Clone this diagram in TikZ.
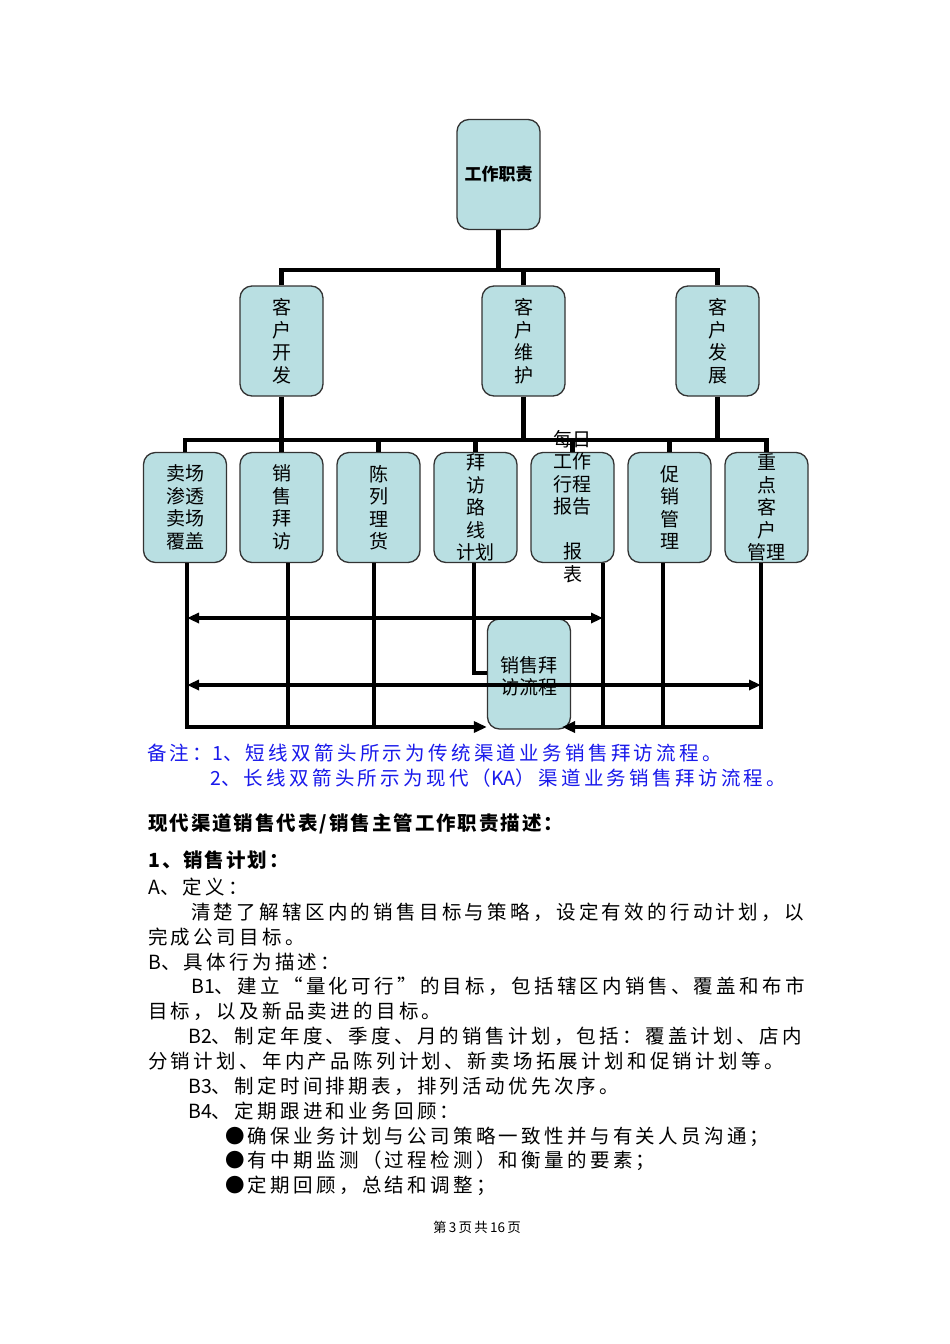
\documentclass[tikz,border=0pt]{standalone}
\usepackage{fontspec}
\setmainfont{Noto Sans CJK SC}
\newfontfamily\bodyfont{Noto Sans CJK SC}[LetterSpace=17]
\newfontfamily\headfont{Noto Sans CJK SC}[LetterSpace=10]
\newfontfamily\latf{Noto Sans CJK SC}
\newcommand\lt[1]{{\latf #1}}
\usetikzlibrary{arrows.meta,calc}
\definecolor{boxfill}{RGB}{185,223,226}
\definecolor{noteblue}{RGB}{25,25,235}
\begin{document}
\begin{tikzpicture}[x=1pt,y=-1pt,
  box/.style={draw=black!80,line width=1.3pt,fill=boxfill,rounded corners=12pt,
    minimum width=83pt,minimum height=110pt,inner sep=0pt,align=center,
    font=\fontsize{19}{22.5}\selectfont},
  boxtext/.style={inner sep=0pt,align=center,font=\fontsize{19}{22.5}\selectfont},
  bar/.style={line width=4.2pt},
  conn/.style={line width=3.5pt},
  tip/.style={-{Triangle[length=13pt,width=11pt]}},
  dtip/.style={{Triangle[length=12pt,width=10pt]}-{Triangle[length=12pt,width=10pt]}},
  body/.style={anchor=base west,inner sep=0pt,font=\bodyfont\fontsize{19.5}{22}\selectfont},
  head/.style={anchor=base west,inner sep=0pt,font=\headfont\bfseries\fontsize{19.5}{22}\selectfont},
  note/.style={body,text=noteblue}
]
\path[fill=white,use as bounding box] (0,0) rectangle (950,1344);

% level 1
\node[box,font=\bfseries\fontsize{17}{20}\selectfont] (top) at (498.5,174.5) {工作职责};
% level 2
\node[box] (k1) at (281.5,341) {客\\户\\开\\发};
\node[box] (k2) at (523.5,341) {客\\户\\维\\护};
\node[box] (k3) at (717.5,341) {客\\户\\发\\展};
% level 3
\node[box] (c1) at (185,507.5) {卖场\\渗透\\卖场\\覆盖};
\node[box] (c2) at (281.5,507.5) {销\\售\\拜\\访};
\node[box] (c3) at (378.5,507.5) {陈\\列\\理\\货};
\node[box] (c4) at (475.5,507.5) {};
\node[box] (c5) at (572.5,507.5) {};
\node[box] (c6) at (669.5,507.5) {促\\销\\管\\理};
\node[box] (c7) at (766.5,507.5) {};

% connectors level 1 -> 2
\coordinate (B1) at (498.5,270);
\draw[bar] (top.south) -- (B1);
\draw[bar] (k1.north) |- (B1) -| (k3.north);
\draw[bar] (k2.north) -- (k2.north |- B1);

% connectors level 2 -> 3
\coordinate (B2) at (475.5,440);
\draw[bar] (c1.north) |- (B2) -| (c7.north);
\draw[bar] (k1.south) -- (c2.north);
\draw[bar] (k2.south) -- (k2.south |- B2);
\draw[bar] (k3.south) -- (k3.south |- B2);
\draw[bar] (c3.north) -- (c3.north |- B2);
\draw[bar] (c4.north) -- (c4.north |- B2);
\draw[bar] (c5.north) -- (c5.north |- B2);
\draw[bar] (c6.north) -- (c6.north |- B2);

% texts of the five-line boxes
\node[boxtext] (c4t) at (475.5,507.5) {拜\\访\\路\\线\\计划};
\node[boxtext] (c7t) at (766.5,507.5) {重\\点\\客\\户\\管理};
\node[boxtext] (c5t) at (572.5,506.5) {每日\\工作\\行程\\报告\\[22.5pt]报\\表};

% flow box
\node[box] (flow) at (529,674) {};
\node[boxtext] (flowt) at (529,676.5) {销售拜\\访流程};

% lower connectors
\coordinate (BL) at (187,727);
\coordinate (BR) at (761,727);
\coordinate (FR) at (562,727);
\coordinate (V2) at (288,727);
\coordinate (V3) at (374,727);
\coordinate (V4) at (474,673);
\coordinate (V5) at (603,727);
\coordinate (V6) at (663,727);
\draw[conn,tip] (c1.south -| BL) -- (BL) -- (flow.west |- BL);
\draw[conn,tip] (c7.south -| BR) -- (BR) -- (FR);
\draw[conn] (c2.south -| V2) -- (V2);
\draw[conn] (c3.south -| V3) -- (V3);
\draw[conn] (c4.south -| V4) -- (V4) -- (flow.west |- V4);
\draw[conn] (c5.south -| V5) -- (V5);
\draw[conn] (c6.south -| V6) -- (V6);

% double arrows
\coordinate (S1) at (187,618);
\coordinate (S2) at (603,618);
\coordinate (L1) at (187,685);
\coordinate (L2) at (761,685);
\draw[conn,dtip] (S1) -- (S2);
\draw[conn,dtip] (L1) -- (L2);

% notes
\node[note] (n1) at (147,760) {备注：\lt{1}、短线双箭头所示为传统渠道业务销售拜访流程。};
\node[note] (n2) at (210,785) {\lt{2}、长线双箭头所示为现代（\lt{KA}）渠道业务销售拜访流程。};

% body text
\node[head] (h1) at (148,830.5) {现代渠道销售代表/销售主管工作职责描述：};
\node[head] (h2) at (148,867.5) {1、销售计划：};
\node[body] (t1) at (148,894) {\lt{A}、定义：};
\node[body] (t2) at (191,919) {清楚了解辖区内的销售目标与策略，设定有效的行动计划，以};
\node[body] (t3) at (148,944) {完成公司目标。};
\node[body] (t4) at (148,969) {\lt{B}、具体行为描述：};
\node[body] (t5) at (191,993) {\lt{B1}、建立“量化可行”的目标，包括辖区内销售、覆盖和布市};
\node[body] (t6) at (148,1018) {目标，以及新品卖进的目标。};
\node[body] (t7) at (188,1043) {\lt{B2}、制定年度、季度、月的销售计划，包括：覆盖计划、店内};
\node[body] (t8) at (148,1068) {分销计划、年内产品陈列计划、新卖场拓展计划和促销计划等。};
\node[body] (t9) at (188,1093) {\lt{B3}、制定时间排期表，排列活动优先次序。};
\node[body] (t10) at (188,1118) {\lt{B4}、定期跟进和业务回顾：};
\node[body] (t11) at (225,1143) {●确保业务计划与公司策略一致性并与有关人员沟通；};
\node[body] (t12) at (225,1167) {●有中期监测（过程检测）和衡量的要素；};
\node[body] (t13) at (225,1192) {●定期回顾，总结和调整；};

% footer
\node[inner sep=0pt,font=\fontsize{13.5}{16}\selectfont] (foot) at (477,1227) {第\,3\,页\,共\,16\,页};
\end{tikzpicture}
\end{document}
